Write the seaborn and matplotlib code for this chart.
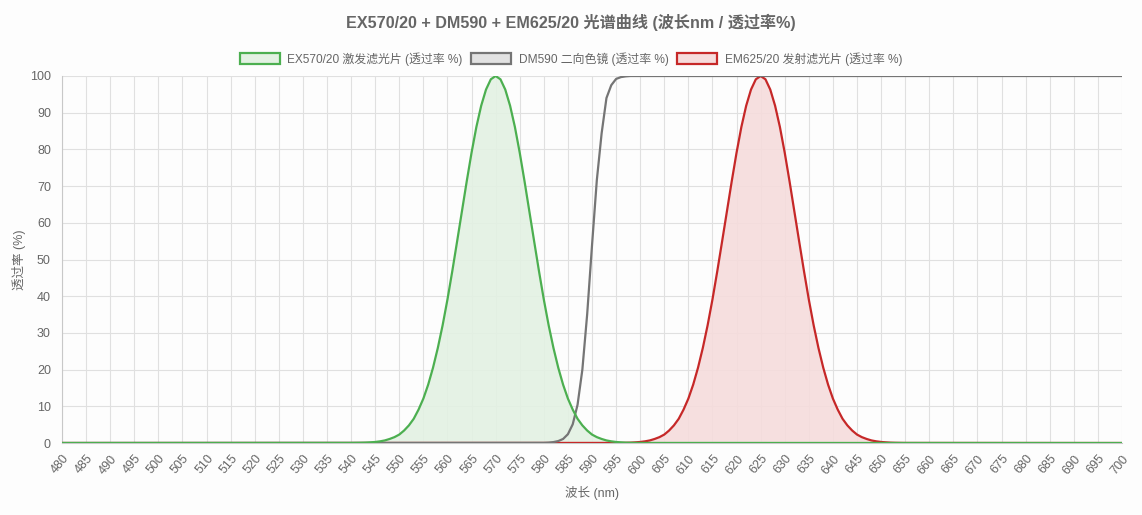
import numpy as np
import pandas as pd
import matplotlib
matplotlib.use('Agg')
import matplotlib.pyplot as plt
from matplotlib.patches import Patch
import seaborn as sns

# spectrum data (wavelength nm / transmission %)
ex_nm = [480] + list(range(540, 601)) + [700]
ex_pct = [0, 0.02, 0.04, 0.06, 0.1, 0.18, 0.28, 0.45, 0.7, 1.1, 1.6, 2.3, 3.4, 4.8, 6.6, 9.1,
          12.1, 15.9, 20.5, 25.9, 32.1, 39.1, 46.8, 54.9, 63.1, 71.3, 79.1, 86.1, 91.9, 96.3, 99.1,
          100, 99.1, 96.3, 91.9, 86.1, 79.1, 71.3, 63.1, 54.9, 46.8, 39.1, 32.1, 25.9, 20.5, 15.9,
          12.1, 9.1, 6.6, 4.8, 3.4, 2.3, 1.6, 1.1, 0.7, 0.45, 0.28, 0.18, 0.1, 0.06, 0.04, 0.02, 0]

dm_nm = [480] + list(range(580, 601)) + [700]
dm_pct = [0, 0.05, 0.11, 0.25, 0.53, 1.1, 2.4, 5.1, 10.4, 20.0, 35.1, 53.8, 71.6, 84.4, 94.0,
          97.5, 99.2, 99.7, 99.9, 100, 100, 100, 100]

em_nm = [480] + list(range(595, 656)) + [700]
em_pct = [0, 0.02, 0.04, 0.06, 0.1, 0.18, 0.28, 0.45, 0.7, 1.1, 1.6, 2.3, 3.4, 4.8, 6.6, 9.1,
          12.1, 15.9, 20.5, 25.9, 32.1, 39.1, 46.8, 54.9, 63.1, 71.3, 79.1, 86.1, 91.9, 96.3, 99.1,
          100, 99.1, 96.3, 91.9, 86.1, 79.1, 71.3, 63.1, 54.9, 46.8, 39.1, 32.1, 25.9, 20.5, 15.9,
          12.1, 9.1, 6.6, 4.8, 3.4, 2.3, 1.6, 1.1, 0.7, 0.45, 0.28, 0.18, 0.1, 0.06, 0.04, 0.02, 0]

labels = ['EX570/20 激发滤光片 (透过率 %)', 'DM590 二向色镜 (透过率 %)', 'EM625/20 发射滤光片 (透过率 %)']
x_ticks = list(range(480, 701, 5))
y_ticks = list(range(0, 101, 10))

sns.set_theme(style='white')
plt.rcParams['font.family'] = ['Liberation Sans', 'Noto Sans CJK SC', 'DejaVu Sans']

txt = '#666666'
grid_c = '#e0e0e0'
c_ex, f_ex = '#4caf50', '#e3f1e3'
c_dm, f_dm = '#757575', '#e2e2e2'
c_em, f_em = '#c62828', '#f6dcdc'

W, H = 1142, 515
fig = plt.figure(figsize=(W / 100, H / 100), dpi=100, facecolor='#fdfdfd')
ax = fig.add_axes([62 / W, (H - 443) / H, 1060 / W, 367 / H])
ax.set_facecolor('#fdfdfd')

ax.fill_between(em_nm, em_pct, 0, color=f_em, alpha=0.9, lw=0, zorder=1)
ax.fill_between(ex_nm, ex_pct, 0, color=f_ex, alpha=0.9, lw=0, zorder=1)
sns.lineplot(x=em_nm, y=em_pct, color=c_em, lw=1.6, ax=ax, estimator=None, sort=False, zorder=3)
sns.lineplot(x=dm_nm, y=dm_pct, color=c_dm, lw=1.6, ax=ax, estimator=None, sort=False, zorder=4)
sns.lineplot(x=ex_nm, y=ex_pct, color=c_ex, lw=1.6, ax=ax, estimator=None, sort=False, zorder=5)

ax.set_xlim(480, 700)
ax.set_ylim(0, 100)
ax.set_xticks(x_ticks)
ax.set_yticks(y_ticks)
ax.set_xticklabels([str(t) for t in x_ticks], rotation=50, ha='right', rotation_mode='anchor',
                   fontsize=9, color=txt)
ax.set_yticklabels([str(t) for t in y_ticks], fontsize=9, color=txt)
ax.grid(True, color=grid_c, lw=0.8, zorder=0)
ax.set_axisbelow(True)
ax.tick_params(axis='both', length=5, width=0.8, color=grid_c, pad=3)
ax.tick_params(axis='x', pad=2)
for s in ['top', 'right']:
    ax.spines[s].set_visible(False)
for s in ['left', 'bottom']:
    ax.spines[s].set_color('#c8c8c8')
    ax.spines[s].set_linewidth(0.8)

ax.set_xlabel('波长 (nm)', fontsize=9, color=txt, labelpad=7)
ax.set_ylabel('透过率 (%)', fontsize=9, color=txt, labelpad=3)

fig.suptitle('EX570/20 + DM590 + EM625/20 光谱曲线 (波长nm / 透过率%)', x=0.5, y=1 - 22 / H,
             va='center', fontsize=11.6, fontweight='bold', color=txt)

handles = [Patch(facecolor=f_ex, edgecolor=c_ex, lw=1.6),
           Patch(facecolor=f_dm, edgecolor=c_dm, lw=1.6),
           Patch(facecolor=f_em, edgecolor=c_em, lw=1.6)]
fig.legend(handles, labels, loc='center', bbox_to_anchor=(0.5, 1 - 59 / H), ncol=3, frameon=False,
           fontsize=8.6, labelcolor=txt, handlelength=3.35, handleheight=1.0, handletextpad=0.6,
           columnspacing=0.75)

fig.savefig('out.png', dpi=100, facecolor=fig.get_facecolor())
